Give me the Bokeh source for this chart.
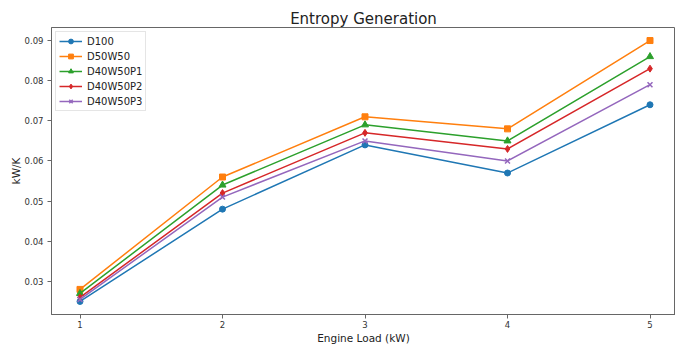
from bokeh.plotting import figure
from bokeh.models import Range1d, FixedTicker, NumeralTickFormatter, Legend, LegendItem
from bokeh.embed import file_html
from bokeh.resources import INLINE

# Data
loads = [1, 2, 3, 4, 5]
d100 = [0.025, 0.048, 0.064, 0.057, 0.074]
d50w50 = [0.028, 0.056, 0.071, 0.068, 0.090]
d40w50p1 = [0.027, 0.054, 0.069, 0.065, 0.086]
d40w50p2 = [0.026, 0.052, 0.067, 0.063, 0.083]
d40w50p3 = [0.0255, 0.051, 0.065, 0.060, 0.079]
series_names = ["D100", "D50W50", "D40W50P1", "D40W50P2", "D40W50P3"]
x_ticks = [1, 2, 3, 4, 5]
y_ticks = [0.03, 0.04, 0.05, 0.06, 0.07, 0.08, 0.09]

series = [d100, d50w50, d40w50p1, d40w50p2, d40w50p3]
colors = ["#1f77b4", "#ff7f0e", "#2ca02c", "#d62728", "#9467bd"]
markers = ["circle", "square", "triangle", "diamond", "x"]
msizes = [6, 6, 7, 7, 7]

FONT = "DejaVu Sans"

p = figure(width=675, height=346, output_backend="svg", toolbar_location=None,
           x_range=Range1d(0.8, 0.8 + 624 / 142.5), y_range=Range1d(0.02175, 0.09325),
           min_border_left=51, min_border_right=0, min_border_top=27, min_border_bottom=31,
           title="Entropy Generation")

p.title.align = "center"
p.title.text_font = FONT
p.title.text_font_size = "15px"
p.title.text_font_style = "normal"
p.title.text_color = "#222222"
p.title.standoff = 0
p.title.offset = 4

p.grid.visible = False
p.outline_line_color = "#666666"
p.outline_line_width = 1

for ax in (p.xaxis[0], p.yaxis[0]):
    ax.axis_line_color = "#666666"
    ax.major_tick_line_color = "#666666"
    ax.minor_tick_line_color = None
    ax.major_tick_in = 0
    ax.major_tick_out = 4
    ax.major_label_text_font = FONT
    ax.major_label_text_font_size = "8.5px"
    ax.major_label_text_color = "#333333"
    ax.axis_label_text_font = FONT
    ax.axis_label_text_font_size = "10.5px"
    ax.axis_label_text_font_style = "normal"
    ax.axis_label_text_color = "#222222"

p.xaxis.ticker = FixedTicker(ticks=x_ticks)
p.yaxis.ticker = FixedTicker(ticks=y_ticks)
p.yaxis.formatter = NumeralTickFormatter(format="0.00")
p.xaxis.axis_label = "Engine Load (kW)"
p.yaxis.axis_label = "kW/K"
p.xaxis.major_label_standoff = 2
p.yaxis.major_label_standoff = 4
p.xaxis.axis_label_standoff = 1
p.yaxis.axis_label_standoff = 0

items = []
for name, ys, c, m, s in zip(series_names, series, colors, markers, msizes):
    r1 = p.line(loads, ys, line_color=c, line_width=1.5)
    r2 = p.scatter(loads, ys, marker=m, size=s, fill_color=c, line_color=c, line_width=1.5 if m == "x" else 1)
    items.append(LegendItem(label=name, renderers=[r1, r2]))

legend = Legend(items=items, location="top_left", margin=4, padding=3,
                glyph_width=23, glyph_height=12, label_height=12, spacing=3,
                label_standoff=5, label_text_font=FONT, label_text_font_size="10px",
                label_text_color="#222222", border_line_color="#cccccc",
                background_fill_alpha=0.8)
p.add_layout(legend)

open("out.html", "w").write(file_html(p, INLINE))
